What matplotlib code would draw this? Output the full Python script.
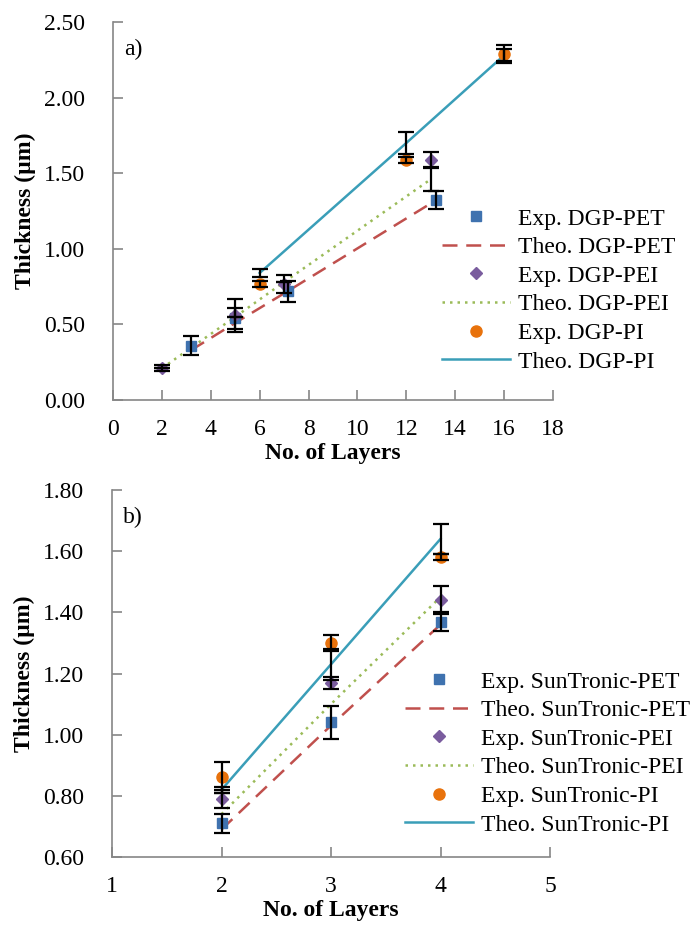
import matplotlib
matplotlib.use("Agg")
import matplotlib.pyplot as plt
from matplotlib.ticker import FormatStrFormatter

plt.rcParams['font.family'] = ['Liberation Serif', 'DejaVu Serif']
plt.rcParams['font.size'] = 17

# a) DGP ink
dgp_pet_x = [3.2, 5, 7.15, 13.2]
dgp_pet_exp = [0.36, 0.54, 0.72, 1.32]
dgp_pet_err = [0.06, 0.07, 0.07, 0.06]
dgp_pet_theo = [0.33, 0.51, 0.72, 1.32]

dgp_pei_x = [2, 5, 7, 13]
dgp_pei_exp = [0.21, 0.56, 0.77, 1.59]
dgp_pei_err = [0.02, 0.11, 0.06, 0.05]
dgp_pei_theo = [0.21, 0.55, 0.78, 1.46]
dgp_pei_theo_err = [0.0, 0.0, 0.0, 0.075]

dgp_pi_x = [6, 12, 16]
dgp_pi_exp = [0.77, 1.59, 2.29]
dgp_pi_err = [0.02, 0.02, 0.06]
dgp_pi_theo = [0.84, 1.70, 2.28]
dgp_pi_theo_err = [0.025, 0.07, 0.04]

# b) SunTronic ink
sun_x = [2, 3, 4]
sun_pet_exp = [0.71, 1.04, 1.37]
sun_pet_err = [0.03, 0.055, 0.03]
sun_pet_theo = [0.69, 1.03, 1.36]
sun_pei_exp = [0.79, 1.17, 1.44]
sun_pei_err = [0.03, 0.02, 0.045]
sun_pei_theo = [0.74, 1.10, 1.45]
sun_pi_exp = [0.86, 1.30, 1.58]
sun_pi_err = [0.05, 0.025, 0.01]
sun_pi_theo = [0.82, 1.23, 1.64]
sun_pi_theo_err = [0.01, 0.05, 0.05]

BLUE = '#3F72AF'
RED = '#C0504D'
PURPLE = '#7A5C9E'
GREEN = '#9BBB59'
ORANGE = '#E8720C'
CYAN = '#3A9EB8'
AXCOL = '#868686'

ebkw = dict(fmt='none', ecolor='black', elinewidth=1.6, capsize=6, capthick=1.6, zorder=4)


def series(ax, x, exp, err, theo, name, marker, mcol, ms, ls, lcol, theo_err=None):
    ax.plot(x, theo, linestyle=ls, color=lcol, lw=1.8, zorder=2, label='Theo. ' + name)
    if theo_err is not None:
        ax.errorbar(x, theo, yerr=theo_err, **ebkw)
    ax.errorbar(x, exp, yerr=err, **ebkw)
    ax.plot(x, exp, linestyle='none', marker=marker, color=mcol, ms=ms, zorder=3,
            label='Exp. ' + name)


def style(ax):
    for s in ['top', 'right']:
        ax.spines[s].set_visible(False)
    for s in ['left', 'bottom']:
        ax.spines[s].set_color(AXCOL)
        ax.spines[s].set_linewidth(1.2)
    ax.tick_params(direction='in', length=7, color=AXCOL, width=1.2)
    ax.tick_params(axis='y', pad=20)
    ax.tick_params(axis='x', pad=14)
    ax.yaxis.set_major_formatter(FormatStrFormatter('%.2f'))
    ax.set_ylabel('Thickness (\u00b5m)', fontweight='bold', labelpad=6)
    ax.set_xlabel('No. of Layers', fontweight='bold', labelpad=2)


def legend(ax, fig, anchor):
    h, l = ax.get_legend_handles_labels()
    order = [1, 0, 3, 2, 5, 4]
    fig.legend([h[i] for i in order], [l[i] for i in order], loc='upper left',
               bbox_to_anchor=anchor, frameon=False, borderpad=0, borderaxespad=0,
               handlelength=2.9, handletextpad=0.3, labelspacing=0.3)


fig = plt.figure(figsize=(6.93, 9.26), dpi=100)
W, H = 693, 926

ax1 = fig.add_axes([113 / W, 1 - 400 / H, 440 / W, 378 / H])
series(ax1, dgp_pet_x, dgp_pet_exp, dgp_pet_err, dgp_pet_theo, 'DGP-PET', 's', BLUE, 7.5, (0, (6, 3.5)), RED)
series(ax1, dgp_pei_x, dgp_pei_exp, dgp_pei_err, dgp_pei_theo, 'DGP-PEI', 'D', PURPLE, 6.5, (0, (1, 2)), GREEN, dgp_pei_theo_err)
series(ax1, dgp_pi_x, dgp_pi_exp, dgp_pi_err, dgp_pi_theo, 'DGP-PI', 'o', ORANGE, 8, '-', CYAN, dgp_pi_theo_err)
ax1.set_xlim(0, 18)
ax1.set_ylim(0, 2.5)
ax1.set_xticks(range(0, 19, 2))
ax1.set_yticks([0, 0.5, 1.0, 1.5, 2.0, 2.5])
style(ax1)
ax1.text(0.025, 0.955, 'a)', transform=ax1.transAxes, va='top', ha='left')
legend(ax1, fig, (442 / W, 1 - 208 / H))

ax2 = fig.add_axes([112 / W, 1 - 857 / H, 438 / W, 367 / H])
series(ax2, sun_x, sun_pet_exp, sun_pet_err, sun_pet_theo, 'SunTronic-PET', 's', BLUE, 7.5, (0, (6, 3.5)), RED)
series(ax2, sun_x, sun_pei_exp, sun_pei_err, sun_pei_theo, 'SunTronic-PEI', 'D', PURPLE, 6.5, (0, (1, 2)), GREEN)
series(ax2, sun_x, sun_pi_exp, sun_pi_err, sun_pi_theo, 'SunTronic-PI', 'o', ORANGE, 8, '-', CYAN, sun_pi_theo_err)
ax2.set_xlim(1, 5)
ax2.set_ylim(0.6, 1.8)
ax2.set_xticks([1, 2, 3, 4, 5])
ax2.set_yticks([0.6, 0.8, 1.0, 1.2, 1.4, 1.6, 1.8])
style(ax2)
ax2.text(0.025, 0.955, 'b)', transform=ax2.transAxes, va='top', ha='left')
legend(ax2, fig, (405 / W, 1 - 671 / H))

fig.savefig('out.png', dpi=100)
